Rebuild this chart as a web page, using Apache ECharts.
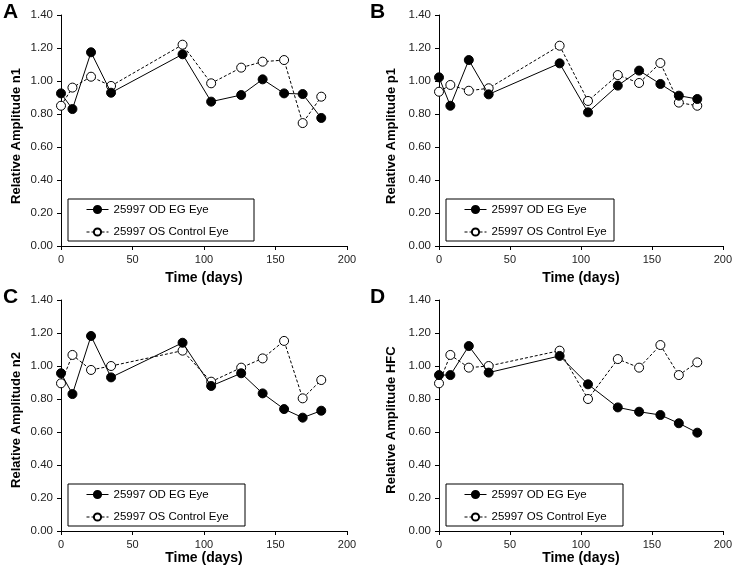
<!DOCTYPE html>
<html><head><meta charset="utf-8">
<script src="https://cdn.jsdelivr.net/npm/echarts@6/dist/echarts.min.js"></script>
<style>html,body{margin:0;padding:0;background:#fff}#c{width:735px;height:571px}</style>
</head><body><div id="c"></div>
<script>
var days = [0, 8, 21, 35, 85, 105, 126, 141, 156, 169, 182];
var n1EG   = [0.925, 0.830, 1.174, 0.929, 1.162, 0.875, 0.915, 1.010, 0.925, 0.921, 0.776];
var n1Ctrl = [0.850, 0.960, 1.026, 0.970, 1.220, 0.986, 1.081, 1.117, 1.127, 0.745, 0.905];
var p1EG   = [1.022, 0.850, 1.127, 0.919, 1.107, 0.810, 0.972, 1.063, 0.982, 0.911, 0.891];
var p1Ctrl = [0.935, 0.976, 0.941, 0.956, 1.214, 0.879, 1.036, 0.988, 1.109, 0.869, 0.850];
var n2EG   = [0.956, 0.830, 1.182, 0.931, 1.141, 0.879, 0.956, 0.834, 0.739, 0.687, 0.729];
var n2Ctrl = [0.895, 1.067, 0.976, 1.000, 1.093, 0.905, 0.990, 1.046, 1.152, 0.804, 0.915];
var hfcEG   = [0.945, 0.945, 1.121, 0.960, 1.061, 0.889, 0.749, 0.723, 0.703, 0.653, 0.596];
var hfcCtrl = [0.895, 1.067, 0.990, 1.000, 1.093, 0.800, 1.042, 0.990, 1.127, 0.945, 1.022];
var panelLetters = ['A', 'B', 'C', 'D'];
var yTitles = ['Relative Amplitude n1', 'Relative Amplitude p1', 'Relative Amplitude n2', 'Relative Amplitude HFC'];
var xTitle = 'Time (days)';
var egName = '25997 OD EG Eye';
var ctrlName = '25997 OS Control Eye';

var FONT = "'Liberation Sans', Arial, sans-serif";
var panels = [
  {eg: n1EG, ctrl: n1Ctrl, left: 61, top: 15, box: [68, 199, 186, 42], letter: [3, 2], yt: [16.5, 136], gap: 25},
  {eg: p1EG, ctrl: p1Ctrl, left: 439, top: 15, box: [446, 199, 168, 42], letter: [370, 2], yt: [391, 136], gap: 25},
  {eg: n2EG, ctrl: n2Ctrl, left: 61, top: 300, box: [68, 484, 177, 42], letter: [3, 287], yt: [16.5, 420], gap: 20},
  {eg: hfcEG, ctrl: hfcCtrl, left: 439, top: 300, box: [446, 484, 177, 42], letter: [370, 287], yt: [391, 420], gap: 20}
];
function pairs(ys) { return days.map(function (d, i) { return [d, ys[i]]; }); }

var grid = [], xAxis = [], yAxis = [], series = [], legend = [], graphic = [];
panels.forEach(function (p, i) {
  grid.push({left: p.left, top: p.top, width: 286, height: 231, containLabel: false});
  xAxis.push({
    type: 'value', gridIndex: i, min: 0, max: 200, interval: 50,
    name: xTitle, nameLocation: 'middle', nameGap: p.gap,
    nameTextStyle: {fontFamily: FONT, fontWeight: 'bold', fontSize: 14, color: '#000'},
    axisLine: {show: true, lineStyle: {color: '#000', width: 1}},
    axisTick: {show: true, length: 4, lineStyle: {color: '#000'}},
    axisLabel: {fontFamily: FONT, fontSize: 11, color: '#222', margin: 8},
    splitLine: {show: false}
  });
  yAxis.push({
    type: 'value', gridIndex: i, min: 0, max: 1.4, interval: 0.2,
    axisLine: {show: true, lineStyle: {color: '#000', width: 1}},
    axisTick: {show: true, length: 4, lineStyle: {color: '#000'}},
    axisLabel: {fontFamily: FONT, fontSize: 11.5, color: '#222', margin: 8,
      formatter: function (v) { return v.toFixed(2); }},
    splitLine: {show: false}
  });
  series.push({
    name: egName, type: 'line', xAxisIndex: i, yAxisIndex: i, data: pairs(p.eg),
    symbol: 'circle', symbolSize: 9, showAllSymbol: true,
    lineStyle: {color: '#000', width: 1},
    itemStyle: {color: '#000', borderColor: '#000', borderWidth: 1},
    emphasis: {disabled: true}, animation: false, z: 3
  });
  series.push({
    name: ctrlName, type: 'line', xAxisIndex: i, yAxisIndex: i, data: pairs(p.ctrl),
    symbol: 'circle', symbolSize: 9, showAllSymbol: true,
    lineStyle: {color: '#000', width: 1, type: [3, 2]},
    itemStyle: {color: '#fff', borderColor: '#000', borderWidth: 1},
    emphasis: {disabled: true}, animation: false, z: 2
  });
  legend.push({
    orient: 'vertical', left: p.box[0] + 18, top: p.box[1] + 4.5, padding: 0,
    itemWidth: 22, itemHeight: 9, itemGap: 10.5,
    data: [egName, ctrlName], selectedMode: false,
    lineStyle: {width: 1},
    textStyle: {fontFamily: FONT, fontSize: 11.5, color: '#000'}
  });
  graphic.push({
    type: 'rect', shape: {x: p.box[0], y: p.box[1], width: p.box[2], height: p.box[3]},
    style: {fill: 'none', stroke: '#000', lineWidth: 1}, z: 1
  });
  graphic.push({
    type: 'text', left: p.letter[0], top: p.letter[1],
    style: {text: panelLetters[i], font: 'bold 21px ' + FONT, fill: '#000'}
  });
  graphic.push({
    type: 'text', x: p.yt[0], y: p.yt[1], rotation: Math.PI / 2,
    style: {text: yTitles[i], font: 'bold 13px ' + FONT, fill: '#000', align: 'center', verticalAlign: 'middle'}
  });
});

var chart = echarts.init(document.getElementById('c'), null, {renderer: 'canvas'});
chart.setOption({
  animation: false, backgroundColor: '#fff',
  grid: grid, xAxis: xAxis, yAxis: yAxis, series: series, legend: legend, graphic: graphic
});
</script></body></html>
